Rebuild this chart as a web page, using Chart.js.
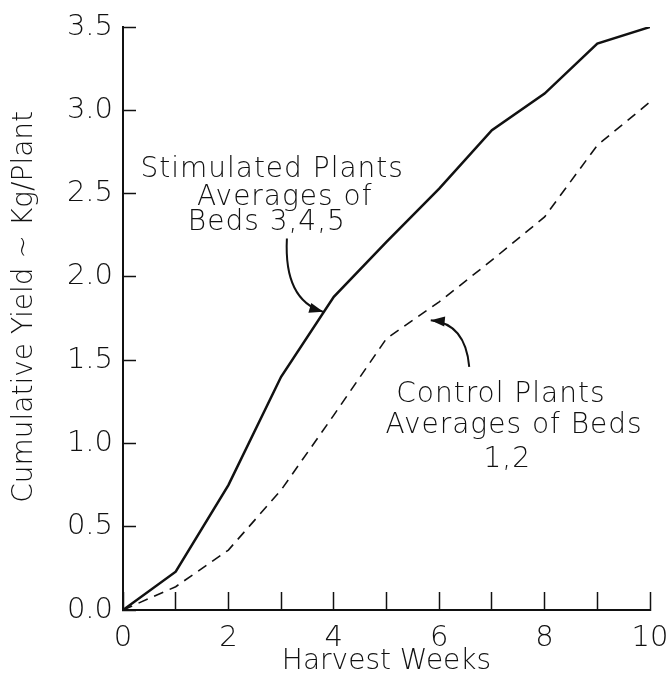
<!DOCTYPE html>
<html>
<head>
<meta charset="utf-8">
<script src="https://cdn.jsdelivr.net/npm/chart.js@4/dist/chart.umd.min.js"></script>
<style>
  html, body { margin: 0; padding: 0; background: #fff; }
  #wrap { width: 668px; height: 683px; }
</style>
</head>
<body>
<div id="wrap"><canvas id="yieldChart" width="668" height="683"></canvas></div>
<script>
// --- Data ---
const weeks = [0, 1, 2, 3, 4, 5, 6, 7, 8, 9, 10];
const stimulatedYield = [0, 0.23, 0.75, 1.40, 1.88, 2.21, 2.53, 2.88, 3.10, 3.40, 3.50];
const controlYield = [0, 0.14, 0.36, 0.72, 1.17, 1.63, 1.85, 2.10, 2.36, 2.79, 3.05];
const yTicks = [0, 0.5, 1.0, 1.5, 2.0, 2.5, 3.0, 3.5];

const FONT = '"DejaVu Sans", sans-serif';
const INK = '#111';

// text labels and arrows, anchored in data coordinates
const notes = [
  { lines: ['Stimulated Plants', 'Averages of', 'Beds 3,4,5'],
    at: [[2.83, 2.60], [3.07, 2.43], [2.73, 2.28]] },
  { lines: ['Control Plants', 'Averages of Beds', '1,2'],
    at: [[7.17, 1.25], [7.42, 1.06], [7.29, 0.86]] }
];
const arrows = [
  { from: [3.11, 2.23], ctrl: [3.05, 1.86], to: [3.80, 1.79] },
  { from: [6.57, 1.46], ctrl: [6.50, 1.72], to: [5.84, 1.74] }
];
const yTitle = 'Cumulative Yield ~ Kg/Plant';

const toXY = (data) => weeks.map((w, i) => ({ x: w, y: data[i] }));

const notesPlugin = {
  id: 'notes',
  afterDatasetsDraw(chart) {
    const { ctx, scales: { x, y } } = chart;
    const px = (p) => [x.getPixelForValue(p[0]), y.getPixelForValue(p[1])];
    ctx.save();
    ctx.fillStyle = INK;
    ctx.strokeStyle = INK;
    ctx.font = `300 28px ${FONT}`;
    ctx.letterSpacing = '1px';
    ctx.textAlign = 'center';
    ctx.textBaseline = 'alphabetic';
    notes.forEach(n => n.lines.forEach((t, i) => {
      const [tx, ty] = px(n.at[i]);
      ctx.fillText(t, tx, ty);
    }));

    // y axis title
    ctx.letterSpacing = '0px';
    ctx.textBaseline = 'middle';
    ctx.translate(25, y.getPixelForValue(1.82));
    ctx.rotate(-Math.PI / 2);
    ctx.fillText(yTitle, 0, 0);
    ctx.setTransform(1, 0, 0, 1, 0, 0);

    arrows.forEach(a => {
      const [x0, y0] = px(a.from);
      const [cx, cy] = px(a.ctrl);
      const [x1, y1] = px(a.to);
      ctx.lineWidth = 2;
      ctx.beginPath();
      ctx.moveTo(x0, y0);
      ctx.quadraticCurveTo(cx, cy, x1, y1);
      ctx.stroke();
      // arrow head
      const ang = Math.atan2(y1 - cy, x1 - cx);
      const len = 14, wid = 5;
      ctx.beginPath();
      ctx.moveTo(x1, y1);
      ctx.lineTo(x1 - len * Math.cos(ang) + wid * Math.sin(ang), y1 - len * Math.sin(ang) - wid * Math.cos(ang));
      ctx.lineTo(x1 - len * Math.cos(ang) - wid * Math.sin(ang), y1 - len * Math.sin(ang) + wid * Math.cos(ang));
      ctx.closePath();
      ctx.fill();
    });
    ctx.restore();
  }
};

const ctx = document.getElementById('yieldChart');
new Chart(ctx, {
  type: 'line',
  data: {
    datasets: [
      { label: 'Stimulated Plants', data: toXY(stimulatedYield), borderColor: INK, borderWidth: 2.5, pointRadius: 0, tension: 0 },
      { label: 'Control Plants', data: toXY(controlYield), borderColor: INK, borderWidth: 1.6, borderDash: [10, 7], pointRadius: 0, tension: 0 }
    ]
  },
  options: {
    responsive: false,
    animation: false,
    layout: { padding: { left: 0, right: 18, top: 27, bottom: 0 } },
    plugins: { legend: { display: false }, tooltip: { enabled: false } },
    scales: {
      x: {
        type: 'linear',
        min: 0, max: 10,
        afterFit: (s) => { s.height = 73; s.paddingLeft = 0; s.paddingRight = 0; },
        afterBuildTicks: (s) => { s.ticks = weeks.map(v => ({ value: v })); },
        border: { display: true, color: INK, width: 2 },
        grid: { drawOnChartArea: false, color: INK, tickColor: INK, tickLength: -18, tickWidth: 1.5 },
        ticks: {
          color: INK, padding: 29, maxRotation: 0, autoSkip: false,
          font: { family: FONT, size: 29, weight: 300 },
          callback: (v) => (v % 2 === 0 ? String(v) : '')
        },
        title: { display: true, text: 'Harvest Weeks', color: INK, padding: { top: 0, bottom: 4 }, font: { family: FONT, size: 28, weight: 300 } }
      },
      y: {
        min: 0, max: 3.5,
        afterFit: (s) => { s.width = 123; s.paddingTop = 0; s.paddingBottom = 0; },
        afterBuildTicks: (s) => { s.ticks = yTicks.map(v => ({ value: v })); },
        border: { display: true, color: INK, width: 2 },
        grid: { drawOnChartArea: false, color: INK, tickColor: INK, tickLength: -13, tickWidth: 1.5 },
        ticks: {
          color: INK, padding: 23,
          font: { family: FONT, size: 29, weight: 300 },
          callback: (v) => v.toFixed(1)
        }
      }
    }
  },
  plugins: [notesPlugin]
});
</script>
</body>
</html>
